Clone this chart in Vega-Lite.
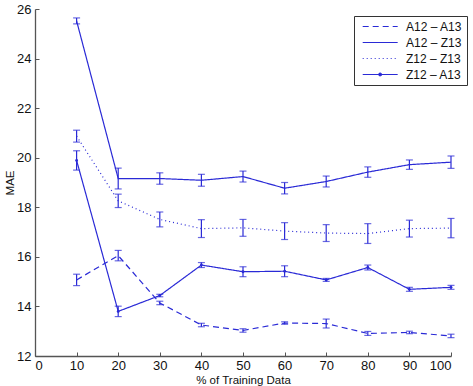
{
  "$schema": "https://vega.github.io/schema/vega-lite/v6.json",
  "autosize": "none",
  "width": 416,
  "height": 347,
  "padding": {"left": 35, "top": 9, "right": 22, "bottom": 30},
  "background": "white",
  "config": {
    "font": "Liberation Sans",
    "view": {"stroke": null},
    "axis": {
      "grid": false,
      "domainColor": "#555555",
      "domainWidth": 1.3,
      "tickColor": "#555555",
      "tickSize": -4,
      "labelFontSize": 13,
      "labelColor": "#111111",
      "titleFontSize": 11.5,
      "titleFontWeight": "normal",
      "titleColor": "#111111"
    },
    "legend": {
      "strokeColor": "#333333",
      "fillColor": "white",
      "padding": 4,
      "labelFontSize": 12,
      "labelColor": "#111111",
      "symbolType": "M-0.31,0H5.69",
      "symbolSize": 136,
      "symbolStrokeWidth": 1.2,
      "symbolStrokeColor": "#2a2ad6",
      "rowPadding": 3,
      "labelOffset": 35
    }
  },
  "data": {
    "values": [
      {"pct": 10, "series": "A12 – A13", "mae": 15.07, "err": 0.23},
      {"pct": 20, "series": "A12 – A13", "mae": 16.05, "err": 0.21},
      {"pct": 30, "series": "A12 – A13", "mae": 14.14, "err": 0.07},
      {"pct": 40, "series": "A12 – A13", "mae": 13.25, "err": 0.07},
      {"pct": 50, "series": "A12 – A13", "mae": 13.03, "err": 0.07},
      {"pct": 60, "series": "A12 – A13", "mae": 13.33, "err": 0.05},
      {"pct": 70, "series": "A12 – A13", "mae": 13.31, "err": 0.18},
      {"pct": 80, "series": "A12 – A13", "mae": 12.91, "err": 0.08},
      {"pct": 90, "series": "A12 – A13", "mae": 12.95, "err": 0.05},
      {"pct": 100, "series": "A12 – A13", "mae": 12.81, "err": 0.07},

      {"pct": 10, "series": "A12 – Z13", "mae": 25.52, "err": 0.12},
      {"pct": 20, "series": "A12 – Z13", "mae": 19.16, "err": 0.42},
      {"pct": 30, "series": "A12 – Z13", "mae": 19.16, "err": 0.23},
      {"pct": 40, "series": "A12 – Z13", "mae": 19.09, "err": 0.24},
      {"pct": 50, "series": "A12 – Z13", "mae": 19.24, "err": 0.22},
      {"pct": 60, "series": "A12 – Z13", "mae": 18.77, "err": 0.23},
      {"pct": 70, "series": "A12 – Z13", "mae": 19.04, "err": 0.22},
      {"pct": 80, "series": "A12 – Z13", "mae": 19.42, "err": 0.21},
      {"pct": 90, "series": "A12 – Z13", "mae": 19.72, "err": 0.19},
      {"pct": 100, "series": "A12 – Z13", "mae": 19.82, "err": 0.25},

      {"pct": 10, "series": "Z12 – Z13", "mae": 20.87, "err": 0.24},
      {"pct": 20, "series": "Z12 – Z13", "mae": 18.26, "err": 0.27},
      {"pct": 30, "series": "Z12 – Z13", "mae": 17.51, "err": 0.3},
      {"pct": 40, "series": "Z12 – Z13", "mae": 17.14, "err": 0.36},
      {"pct": 50, "series": "Z12 – Z13", "mae": 17.17, "err": 0.34},
      {"pct": 60, "series": "Z12 – Z13", "mae": 17.04, "err": 0.34},
      {"pct": 70, "series": "Z12 – Z13", "mae": 16.96, "err": 0.34},
      {"pct": 80, "series": "Z12 – Z13", "mae": 16.94, "err": 0.4},
      {"pct": 90, "series": "Z12 – Z13", "mae": 17.14, "err": 0.34},
      {"pct": 100, "series": "Z12 – Z13", "mae": 17.16, "err": 0.39},

      {"pct": 10, "series": "Z12 – A13", "mae": 19.89, "err": 0.39},
      {"pct": 20, "series": "Z12 – A13", "mae": 13.8, "err": 0.21},
      {"pct": 30, "series": "Z12 – A13", "mae": 14.44, "err": 0.05},
      {"pct": 40, "series": "Z12 – A13", "mae": 15.67, "err": 0.1},
      {"pct": 50, "series": "Z12 – A13", "mae": 15.4, "err": 0.2},
      {"pct": 60, "series": "Z12 – A13", "mae": 15.42, "err": 0.22},
      {"pct": 70, "series": "Z12 – A13", "mae": 15.07, "err": 0.06},
      {"pct": 80, "series": "Z12 – A13", "mae": 15.57, "err": 0.1},
      {"pct": 90, "series": "Z12 – A13", "mae": 14.69, "err": 0.08},
      {"pct": 100, "series": "Z12 – A13", "mae": 14.77, "err": 0.08}
    ]
  },
  "encoding": {
    "x": {
      "field": "pct",
      "type": "quantitative",
      "scale": {"domain": [0, 100], "nice": false},
      "axis": {
        "title": "% of Training Data",
        "values": [0, 10, 20, 30, 40, 50, 60, 70, 80, 90, 100],
        "labelPadding": 7,
        "titlePadding": 2
      }
    }
  },
  "layer": [
    {
      "mark": {
        "type": "errorbar",
        "ticks": {"size": 7},
        "color": "#2a2ad6",
        "thickness": 1.2
      },
      "encoding": {
        "y": {
          "field": "mae",
          "type": "quantitative",
          "scale": {"domain": [12, 26], "nice": false, "zero": false},
          "axis": {
            "title": "MAE",
            "values": [12, 14, 16, 18, 20, 22, 24, 26],
            "labelPadding": 8,
            "titlePadding": 1
          }
        },
        "yError": {"field": "err"},
        "detail": {"field": "series"}
      }
    },
    {
      "mark": {"type": "line", "color": "#2a2ad6", "strokeWidth": 1.2},
      "encoding": {
        "y": {"field": "mae", "type": "quantitative"},
        "strokeDash": {
          "field": "series",
          "type": "nominal",
          "scale": {
            "domain": ["A12 – A13", "A12 – Z13", "Z12 – Z13", "Z12 – A13"],
            "range": [[6, 4], [1, 0], [1, 3], [1, 0]]
          },
          "legend": {
            "title": null,
            "orient": "none",
            "legendX": 319,
            "legendY": 7,
            "encode": {
              "symbols": {
                "update": {
                  "shape": {"signal": "datum.value === 'Z12 – A13' ? 'M-0.31,0H5.69M2.47,0A0.22,0.22,0,1,0,2.91,0A0.22,0.22,0,1,0,2.47,0' : 'M-0.31,0H5.69'"},
                  "fill": {"value": "#2a2ad6"},
                  "stroke": {"value": "#2a2ad6"}
                }
              }
            }
          }
        }
      }
    },
    {
      "transform": [{"filter": "datum.series === 'Z12 – A13'"}],
      "mark": {"type": "point", "filled": true, "color": "#2a2ad6", "size": 8, "opacity": 1},
      "encoding": {
        "y": {"field": "mae", "type": "quantitative"}
      }
    }
  ]
}
